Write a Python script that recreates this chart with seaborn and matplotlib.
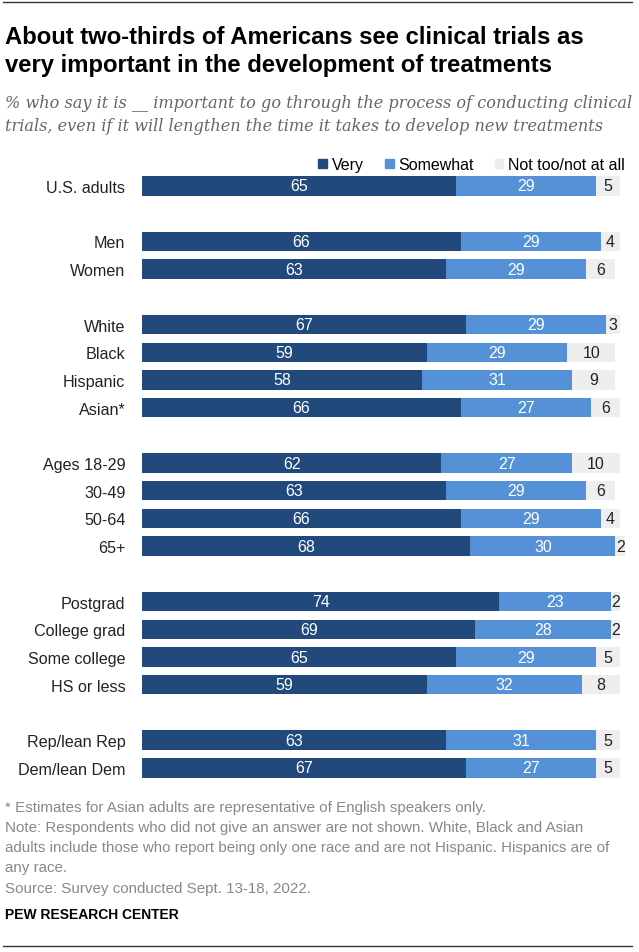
import seaborn as sns
import pandas as pd
import numpy as np
import matplotlib
matplotlib.use('Agg')
import matplotlib.pyplot as plt
from matplotlib.patches import Patch
from matplotlib.lines import Line2D

# groups of rows, a blank row between groups
groups = [
    ['U.S. adults'],
    ['Men', 'Women'],
    ['White', 'Black', 'Hispanic', 'Asian*'],
    ['Ages 18-29', '30-49', '50-64', '65+'],
    ['Postgrad', 'College grad', 'Some college', 'HS or less'],
    ['Rep/lean Rep', 'Dem/lean Dem'],
]
very = [65, 66, 63, 67, 59, 58, 66, 62, 63, 66, 68, 74, 69, 65, 59, 63, 67]
somewhat = [29, 29, 29, 29, 29, 31, 27, 27, 29, 29, 30, 23, 28, 29, 32, 31, 27]
not_too = [5, 4, 6, 3, 10, 9, 6, 10, 6, 4, 2, 2, 2, 5, 8, 5, 5]

dark = '#21497c'
mid = '#5591d7'
light = '#eeeeee'

categories = [c for g in groups for c in g]
order = []
for i, g in enumerate(groups):
    if i > 0:
        order.append(' ' * i)
    order.extend(g)

df = pd.DataFrame({'cat': categories, 'very': very, 'somewhat': somewhat, 'not_too': not_too})
df['c2'] = df['very'] + df['somewhat']
df['c3'] = df['c2'] + df['not_too']

W, H = 639, 953
fig = plt.figure(figsize=(W / 100, H / 100), dpi=100)
ax = fig.add_axes([142 / W, 1 - 782.7 / H, 483 / W, 609.6 / H])

sns.barplot(data=df, x='c3', y='cat', order=order, color=light, width=0.7,
            saturation=1, orient='h', ax=ax)
sns.barplot(data=df, x='c2', y='cat', order=order, color=mid, width=0.7,
            saturation=1, orient='h', ax=ax)
sns.barplot(data=df, x='very', y='cat', order=order, color=dark, width=0.7,
            saturation=1, orient='h', ax=ax)

for p in ax.patches:
    p.set_linewidth(0)

lab_font = ['Liberation Sans', 'DejaVu Sans']
for _, r in df.iterrows():
    y = order.index(r['cat'])
    ax.text(r['very'] / 2, y, str(r['very']), ha='center', va='center',
            color='white', fontsize=11.5, family=lab_font)
    ax.text(r['very'] + r['somewhat'] / 2, y, str(r['somewhat']), ha='center',
            va='center', color='white', fontsize=11.5, family=lab_font)
    ax.text(r['c2'] + r['not_too'] / 2, y, str(r['not_too']), ha='center',
            va='center', color='#222222', fontsize=11.5, family=lab_font)

ax.set_xlim(0, 100)
ax.set_xlabel('')
ax.set_ylabel('')
ax.set_xticks([])
ax.tick_params(axis='y', length=0, pad=12)
for t in ax.get_yticklabels():
    t.set_fontsize(11.6)
    t.set_family(lab_font)
    t.set_color('#222222')
for s in ax.spines.values():
    s.set_visible(False)

handles = [Patch(color=dark, label='Very'), Patch(color=mid, label='Somewhat'),
           Patch(color=light, label='Not too/not at all')]
ax.legend(handles=handles, loc='lower right', bbox_to_anchor=(1.0, 1.0), ncol=3,
          frameon=False, handlelength=0.55, handleheight=0.55, handletextpad=0.3,
          columnspacing=1.3, borderaxespad=0.0, borderpad=0,
          prop={'family': lab_font, 'size': 11.5})

def fy(px):
    return 1 - px / H

fig.text(5 / W, fy(26), 'About two-thirds of Americans see clinical trials as\n'
         'very important in the development of treatments',
         fontsize=17.2, fontweight='bold', family=['Liberation Sans', 'DejaVu Sans'],
         va='top', ha='left', linespacing=1.3, color='black')
fig.text(5 / W, fy(95), '% who say it is __ important to go through the process of conducting clinical\n'
         'trials, even if it will lengthen the time it takes to develop new treatments',
         fontsize=11.6, style='italic', family=['DejaVu Serif'], va='top', ha='left',
         linespacing=1.47, color='#666666')

foot = ('* Estimates for Asian adults are representative of English speakers only.\n'
        'Note: Respondents who did not give an answer are not shown. White, Black and Asian\n'
        'adults include those who report being only one race and are not Hispanic. Hispanics are of\n'
        'any race.\n'
        'Source: Survey conducted Sept. 13-18, 2022.')
fig.text(5 / W, fy(801), foot, fontsize=10.9, family=['Liberation Sans', 'DejaVu Sans'],
         va='top', ha='left', linespacing=1.56, color='#888888')
fig.text(5 / W, fy(915), 'PEW RESEARCH CENTER', fontsize=10, fontweight='bold',
         family=['Liberation Sans', 'DejaVu Sans'], va='center', ha='left', color='black')

for yy in (3, 947):
    fig.add_artist(Line2D([3 / W, 632 / W], [fy(yy), fy(yy)], transform=fig.transFigure,
                          color='#333333', linewidth=1))

fig.savefig('out.png', dpi=100)
